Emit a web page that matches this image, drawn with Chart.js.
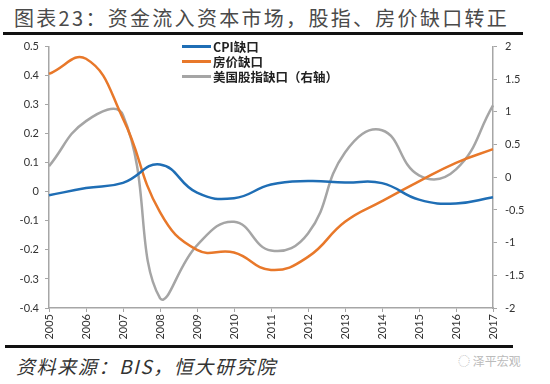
<!DOCTYPE html>
<html>
<head>
<meta charset="utf-8">
<script src="https://cdn.jsdelivr.net/npm/chart.js@4.4.1/dist/chart.umd.min.js"></script>
<style>
  body { margin: 0; width: 550px; height: 384px; background: #fff; position: relative; overflow: hidden; font-family: "Noto Sans CJK SC", sans-serif; }
  #title { position: absolute; left: 14px; top: 3px; font-size: 20px; letter-spacing: 2.3px; color: #4a4a4a; white-space: nowrap; }
  .rule { position: absolute; height: 3px; background: #111; }
  #chartBox { position: absolute; left: 0; top: 32px; width: 550px; height: 312px; }
  #legend { position: absolute; left: 182px; top: 39px; font-size: 12.5px; font-weight: bold; color: #222; line-height: 15px; }
  #legend div { display: flex; align-items: center; white-space: nowrap; }
  #legend span.sw { display: inline-block; width: 29px; height: 2.5px; margin-right: 2px; }
  #source { position: absolute; left: 16px; top: 352px; font-size: 19px; font-style: italic; color: #333; letter-spacing: 1.6px; }
  #mark { position: absolute; left: 458px; top: 352px; font-size: 12px; color: #bbb; white-space: nowrap; }
</style>
</head>
<body>
<div id="title">图表23：资金流入资本市场，股指、房价缺口转正</div>
<div class="rule" style="left:3px; top:32px; width:520px;"></div>
<div id="chartBox"><canvas id="c" width="550" height="312"></canvas></div>
<div id="legend">
  <div><span class="sw" style="background:#1F6EB5"></span>CPI缺口</div>
  <div><span class="sw" style="background:#E8782A"></span>房价缺口</div>
  <div><span class="sw" style="background:#A5A5A5"></span>美国股指缺口（右轴）</div>
</div>
<div class="rule" style="left:5px; top:345px; width:508px;"></div>
<div id="source">资料来源：BIS，恒大研究院</div>
<div id="mark">◌ 泽平宏观</div>
<script>
// years on the x axis
const years = ['2005', '2006', '2007', '2008', '2009', '2010', '2011', '2012', '2013', '2014', '2015', '2016', '2017'];
// left axis
const cpiGap = [-0.012, 0.013, 0.031, 0.094, -0.003, -0.022, 0.025, 0.037, 0.032, 0.03, -0.027, -0.04, -0.019];
const houseGap = [0.406, 0.458, 0.252, -0.07, -0.2, -0.209, -0.269, -0.224, -0.103, -0.032, 0.036, 0.1, 0.147];
// right axis
const stockGap = [0.17, 0.86, 0.95, -1.85, -1.04, -0.68, -1.12, -0.86, 0.38, 0.72, 0.03, 0.12, 1.1];

const axisGray = '#A6A6A6';
const tickFont = { family: 'Lato, "Open Sans", sans-serif', size: 11 };

new Chart(document.getElementById('c'), {
  type: 'line',
  data: {
    labels: years,
    datasets: [
      { label: 'CPI缺口', data: cpiGap, borderColor: '#1F6EB5', yAxisID: 'y' },
      { label: '房价缺口', data: houseGap, borderColor: '#E8782A', yAxisID: 'y' },
      { label: '美国股指缺口（右轴）', data: stockGap, borderColor: '#A5A5A5', yAxisID: 'y1' }
    ]
  },
  options: {
    responsive: false,
    animation: false,
    layout: { padding: { top: 2, bottom: 0, left: 0, right: 0 } },
    elements: {
      line: { borderWidth: 2.5, tension: 0.45, fill: false },
      point: { radius: 0 }
    },
    plugins: { legend: { display: false }, tooltip: { enabled: false } },
    scales: {
      x: {
        offset: false,
        grid: { display: true, drawOnChartArea: false, drawTicks: true, tickLength: 4, color: axisGray },
        border: { color: axisGray, width: 1.5 },
        ticks: { minRotation: 90, maxRotation: 90, autoSkip: false, padding: 2, color: '#333', font: tickFont },
        afterFit: s => { s.height = 36; }
      },
      y: {
        position: 'left',
        min: -0.4, max: 0.5,
        grid: { drawOnChartArea: false, drawTicks: true, tickLength: 4, color: axisGray },
        border: { color: axisGray, width: 1.5 },
        ticks: { stepSize: 0.1, padding: 6, color: '#333', font: tickFont,
          callback: v => String(Number(v.toFixed(1))) },
        afterFit: s => { s.width = 49; }
      },
      y1: {
        position: 'right',
        min: -2, max: 2,
        grid: { drawOnChartArea: false, drawTicks: true, tickLength: 4, color: axisGray },
        border: { color: axisGray, width: 1.5 },
        ticks: { stepSize: 0.5, padding: 8, color: '#333', font: tickFont,
          callback: v => String(Number(v.toFixed(1))) },
        afterFit: s => { s.width = 57; }
      }
    }
  }
});
</script>
</body>
</html>
